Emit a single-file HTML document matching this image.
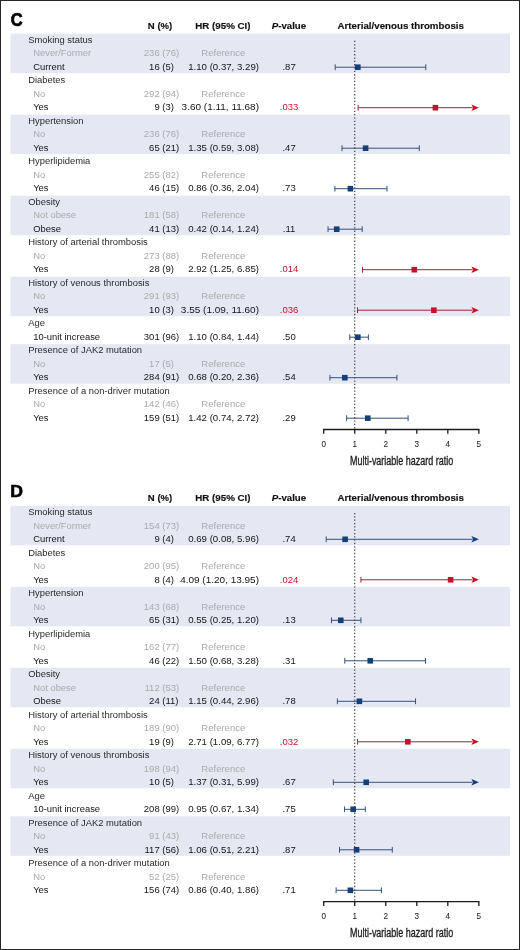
<!DOCTYPE html>
<html><head><meta charset="utf-8"><title>Forest plot</title>
<style>html,body{margin:0;padding:0;background:#fff;} body{width:520px;height:950px;overflow:hidden;font-family:"Liberation Sans", sans-serif;} svg{display:block;will-change:transform;}</style>
</head><body>
<svg width="520" height="950" viewBox="0 0 520 950" font-family='"Liberation Sans", sans-serif'>
<rect x="0" y="0" width="520" height="950" fill="#fff"/>
<text x="10.72" y="25.6" font-size="17.5" font-weight="bold" fill="#000" stroke="#000" stroke-width="0.7" textLength="11.93" lengthAdjust="spacingAndGlyphs">C</text>
<g font-weight="bold" font-size="9.5" fill="#111" stroke="#111" stroke-width="0.15">
<text x="147.86" y="29" textLength="24.42" lengthAdjust="spacingAndGlyphs">N (%)</text>
<text x="195.25" y="29" textLength="55.25" lengthAdjust="spacingAndGlyphs">HR (95% CI)</text>
<text x="271.75" y="29" textLength="34.38" lengthAdjust="spacingAndGlyphs"><tspan font-style="italic">P</tspan>-value</text>
<text x="337.56" y="29" textLength="126.34" lengthAdjust="spacingAndGlyphs">Arterial/venous thrombosis</text>
</g>
<rect x="10.5" y="33.7" width="499.5" height="39.5" fill="#e5e8f3"/>
<rect x="10.5" y="114.7" width="499.5" height="39.5" fill="#e5e8f3"/>
<rect x="10.5" y="195.7" width="499.5" height="39.5" fill="#e5e8f3"/>
<rect x="10.5" y="276.7" width="499.5" height="39.5" fill="#e5e8f3"/>
<rect x="10.5" y="344.2" width="499.5" height="39.5" fill="#e5e8f3"/>
<line x1="354.73" y1="40.8" x2="354.73" y2="429.5" stroke="#333" stroke-width="1.1" stroke-dasharray="1.3 2.03"/>
<g font-size="9.5"><text x="28.2" y="42.9" fill="#2a2a2a" font-size="8.9" textLength="64.26" lengthAdjust="spacingAndGlyphs">Smoking status</text>
<text x="33.2" y="56.4" fill="#aaaaaa" font-size="8.9" textLength="57.97" lengthAdjust="spacingAndGlyphs">Never/Former</text>
<text x="159.7" y="56.4" fill="#aaaaaa" font-size="8.9" textLength="15.85" lengthAdjust="spacingAndGlyphs" text-anchor="end">236</text>
<text x="162.3" y="56.4" fill="#aaaaaa" font-size="8.9" textLength="16.89" lengthAdjust="spacingAndGlyphs">(76)</text>
<text x="223.3" y="56.4" fill="#aaaaaa" font-size="8.9" textLength="43.83" lengthAdjust="spacingAndGlyphs" text-anchor="middle">Reference</text>
<text x="33.2" y="69.9" fill="#141414" font-size="8.9" textLength="31.34" lengthAdjust="spacingAndGlyphs">Current</text>
<text x="159.7" y="69.9" fill="#141414" font-size="8.9" textLength="10.57" lengthAdjust="spacingAndGlyphs" text-anchor="end">16</text>
<text x="162.3" y="69.9" fill="#141414" font-size="8.9" textLength="11.61" lengthAdjust="spacingAndGlyphs">(5)</text>
<text x="259" y="69.9" fill="#141414" font-size="8.9" textLength="70.82" lengthAdjust="spacingAndGlyphs" text-anchor="end">1.10 (0.37, 3.29)</text>
<text x="289.1" y="69.9" fill="#141414" font-size="8.9" textLength="13.21" lengthAdjust="spacingAndGlyphs" text-anchor="middle">.87</text>
<text x="28.2" y="83.4" fill="#2a2a2a" font-size="8.9" textLength="37.1" lengthAdjust="spacingAndGlyphs">Diabetes</text>
<text x="33.2" y="96.9" fill="#aaaaaa" font-size="8.9" textLength="12.02" lengthAdjust="spacingAndGlyphs">No</text>
<text x="159.7" y="96.9" fill="#aaaaaa" font-size="8.9" textLength="15.85" lengthAdjust="spacingAndGlyphs" text-anchor="end">292</text>
<text x="162.3" y="96.9" fill="#aaaaaa" font-size="8.9" textLength="16.89" lengthAdjust="spacingAndGlyphs">(94)</text>
<text x="223.3" y="96.9" fill="#aaaaaa" font-size="8.9" textLength="43.83" lengthAdjust="spacingAndGlyphs" text-anchor="middle">Reference</text>
<text x="33.2" y="110.4" fill="#141414" font-size="8.9" textLength="15.33" lengthAdjust="spacingAndGlyphs">Yes</text>
<text x="159.7" y="110.4" fill="#141414" font-size="8.9" textLength="5.28" lengthAdjust="spacingAndGlyphs" text-anchor="end">9</text>
<text x="162.3" y="110.4" fill="#141414" font-size="8.9" textLength="11.61" lengthAdjust="spacingAndGlyphs">(3)</text>
<text x="259" y="110.4" fill="#141414" font-size="8.9" textLength="77.37" lengthAdjust="spacingAndGlyphs" text-anchor="end">3.60 (1.11, 11.68)</text>
<text x="289.1" y="110.4" fill="#c8102e" font-size="8.9" textLength="18.49" lengthAdjust="spacingAndGlyphs" text-anchor="middle">.033</text>
<text x="28.2" y="123.9" fill="#2a2a2a" font-size="8.9" textLength="55.39" lengthAdjust="spacingAndGlyphs">Hypertension</text>
<text x="33.2" y="137.4" fill="#aaaaaa" font-size="8.9" textLength="12.02" lengthAdjust="spacingAndGlyphs">No</text>
<text x="159.7" y="137.4" fill="#aaaaaa" font-size="8.9" textLength="15.85" lengthAdjust="spacingAndGlyphs" text-anchor="end">236</text>
<text x="162.3" y="137.4" fill="#aaaaaa" font-size="8.9" textLength="16.89" lengthAdjust="spacingAndGlyphs">(76)</text>
<text x="223.3" y="137.4" fill="#aaaaaa" font-size="8.9" textLength="43.83" lengthAdjust="spacingAndGlyphs" text-anchor="middle">Reference</text>
<text x="33.2" y="150.9" fill="#141414" font-size="8.9" textLength="15.33" lengthAdjust="spacingAndGlyphs">Yes</text>
<text x="159.7" y="150.9" fill="#141414" font-size="8.9" textLength="10.57" lengthAdjust="spacingAndGlyphs" text-anchor="end">65</text>
<text x="162.3" y="150.9" fill="#141414" font-size="8.9" textLength="16.89" lengthAdjust="spacingAndGlyphs">(21)</text>
<text x="259" y="150.9" fill="#141414" font-size="8.9" textLength="70.82" lengthAdjust="spacingAndGlyphs" text-anchor="end">1.35 (0.59, 3.08)</text>
<text x="289.1" y="150.9" fill="#141414" font-size="8.9" textLength="13.21" lengthAdjust="spacingAndGlyphs" text-anchor="middle">.47</text>
<text x="28.2" y="164.4" fill="#2a2a2a" font-size="8.9" textLength="62.17" lengthAdjust="spacingAndGlyphs">Hyperlipidemia</text>
<text x="33.2" y="177.9" fill="#aaaaaa" font-size="8.9" textLength="12.02" lengthAdjust="spacingAndGlyphs">No</text>
<text x="159.7" y="177.9" fill="#aaaaaa" font-size="8.9" textLength="15.85" lengthAdjust="spacingAndGlyphs" text-anchor="end">255</text>
<text x="162.3" y="177.9" fill="#aaaaaa" font-size="8.9" textLength="16.89" lengthAdjust="spacingAndGlyphs">(82)</text>
<text x="223.3" y="177.9" fill="#aaaaaa" font-size="8.9" textLength="43.83" lengthAdjust="spacingAndGlyphs" text-anchor="middle">Reference</text>
<text x="33.2" y="191.4" fill="#141414" font-size="8.9" textLength="15.33" lengthAdjust="spacingAndGlyphs">Yes</text>
<text x="159.7" y="191.4" fill="#141414" font-size="8.9" textLength="10.57" lengthAdjust="spacingAndGlyphs" text-anchor="end">46</text>
<text x="162.3" y="191.4" fill="#141414" font-size="8.9" textLength="16.89" lengthAdjust="spacingAndGlyphs">(15)</text>
<text x="259" y="191.4" fill="#141414" font-size="8.9" textLength="70.82" lengthAdjust="spacingAndGlyphs" text-anchor="end">0.86 (0.36, 2.04)</text>
<text x="289.1" y="191.4" fill="#141414" font-size="8.9" textLength="13.21" lengthAdjust="spacingAndGlyphs" text-anchor="middle">.73</text>
<text x="28.2" y="204.9" fill="#2a2a2a" font-size="8.9" textLength="31.87" lengthAdjust="spacingAndGlyphs">Obesity</text>
<text x="33.2" y="218.4" fill="#aaaaaa" font-size="8.9" textLength="42.85" lengthAdjust="spacingAndGlyphs">Not obese</text>
<text x="159.7" y="218.4" fill="#aaaaaa" font-size="8.9" textLength="15.85" lengthAdjust="spacingAndGlyphs" text-anchor="end">181</text>
<text x="162.3" y="218.4" fill="#aaaaaa" font-size="8.9" textLength="16.89" lengthAdjust="spacingAndGlyphs">(58)</text>
<text x="223.3" y="218.4" fill="#aaaaaa" font-size="8.9" textLength="43.83" lengthAdjust="spacingAndGlyphs" text-anchor="middle">Reference</text>
<text x="33.2" y="231.9" fill="#141414" font-size="8.9" textLength="27.7" lengthAdjust="spacingAndGlyphs">Obese</text>
<text x="159.7" y="231.9" fill="#141414" font-size="8.9" textLength="10.57" lengthAdjust="spacingAndGlyphs" text-anchor="end">41</text>
<text x="162.3" y="231.9" fill="#141414" font-size="8.9" textLength="16.89" lengthAdjust="spacingAndGlyphs">(13)</text>
<text x="259" y="231.9" fill="#141414" font-size="8.9" textLength="70.82" lengthAdjust="spacingAndGlyphs" text-anchor="end">0.42 (0.14, 1.24)</text>
<text x="289.1" y="231.9" fill="#141414" font-size="8.9" textLength="12.5" lengthAdjust="spacingAndGlyphs" text-anchor="middle">.11</text>
<text x="28.2" y="245.4" fill="#2a2a2a" font-size="8.9" textLength="119.63" lengthAdjust="spacingAndGlyphs">History of arterial thrombosis</text>
<text x="33.2" y="258.9" fill="#aaaaaa" font-size="8.9" textLength="12.02" lengthAdjust="spacingAndGlyphs">No</text>
<text x="159.7" y="258.9" fill="#aaaaaa" font-size="8.9" textLength="15.85" lengthAdjust="spacingAndGlyphs" text-anchor="end">273</text>
<text x="162.3" y="258.9" fill="#aaaaaa" font-size="8.9" textLength="16.89" lengthAdjust="spacingAndGlyphs">(88)</text>
<text x="223.3" y="258.9" fill="#aaaaaa" font-size="8.9" textLength="43.83" lengthAdjust="spacingAndGlyphs" text-anchor="middle">Reference</text>
<text x="33.2" y="272.4" fill="#141414" font-size="8.9" textLength="15.33" lengthAdjust="spacingAndGlyphs">Yes</text>
<text x="159.7" y="272.4" fill="#141414" font-size="8.9" textLength="10.57" lengthAdjust="spacingAndGlyphs" text-anchor="end">28</text>
<text x="162.3" y="272.4" fill="#141414" font-size="8.9" textLength="11.61" lengthAdjust="spacingAndGlyphs">(9)</text>
<text x="259" y="272.4" fill="#141414" font-size="8.9" textLength="70.82" lengthAdjust="spacingAndGlyphs" text-anchor="end">2.92 (1.25, 6.85)</text>
<text x="289.1" y="272.4" fill="#c8102e" font-size="8.9" textLength="18.49" lengthAdjust="spacingAndGlyphs" text-anchor="middle">.014</text>
<text x="28.2" y="285.9" fill="#2a2a2a" font-size="8.9" textLength="121.2" lengthAdjust="spacingAndGlyphs">History of venous thrombosis</text>
<text x="33.2" y="299.4" fill="#aaaaaa" font-size="8.9" textLength="12.02" lengthAdjust="spacingAndGlyphs">No</text>
<text x="159.7" y="299.4" fill="#aaaaaa" font-size="8.9" textLength="15.85" lengthAdjust="spacingAndGlyphs" text-anchor="end">291</text>
<text x="162.3" y="299.4" fill="#aaaaaa" font-size="8.9" textLength="16.89" lengthAdjust="spacingAndGlyphs">(93)</text>
<text x="223.3" y="299.4" fill="#aaaaaa" font-size="8.9" textLength="43.83" lengthAdjust="spacingAndGlyphs" text-anchor="middle">Reference</text>
<text x="33.2" y="312.9" fill="#141414" font-size="8.9" textLength="15.33" lengthAdjust="spacingAndGlyphs">Yes</text>
<text x="159.7" y="312.9" fill="#141414" font-size="8.9" textLength="10.57" lengthAdjust="spacingAndGlyphs" text-anchor="end">10</text>
<text x="162.3" y="312.9" fill="#141414" font-size="8.9" textLength="11.61" lengthAdjust="spacingAndGlyphs">(3)</text>
<text x="259" y="312.9" fill="#141414" font-size="8.9" textLength="78.11" lengthAdjust="spacingAndGlyphs" text-anchor="end">3.55 (1.09, 11.60)</text>
<text x="289.1" y="312.9" fill="#c8102e" font-size="8.9" textLength="18.49" lengthAdjust="spacingAndGlyphs" text-anchor="middle">.036</text>
<text x="28.2" y="326.4" fill="#2a2a2a" font-size="8.9" textLength="16.73" lengthAdjust="spacingAndGlyphs">Age</text>
<text x="33.2" y="339.9" fill="#141414" font-size="8.9" textLength="66.88" lengthAdjust="spacingAndGlyphs">10-unit increase</text>
<text x="159.7" y="339.9" fill="#141414" font-size="8.9" textLength="15.85" lengthAdjust="spacingAndGlyphs" text-anchor="end">301</text>
<text x="162.3" y="339.9" fill="#141414" font-size="8.9" textLength="16.89" lengthAdjust="spacingAndGlyphs">(96)</text>
<text x="259" y="339.9" fill="#141414" font-size="8.9" textLength="70.82" lengthAdjust="spacingAndGlyphs" text-anchor="end">1.10 (0.84, 1.44)</text>
<text x="289.1" y="339.9" fill="#141414" font-size="8.9" textLength="13.21" lengthAdjust="spacingAndGlyphs" text-anchor="middle">.50</text>
<text x="28.2" y="353.4" fill="#2a2a2a" font-size="8.9" textLength="113.91" lengthAdjust="spacingAndGlyphs">Presence of JAK2 mutation</text>
<text x="33.2" y="366.9" fill="#aaaaaa" font-size="8.9" textLength="12.02" lengthAdjust="spacingAndGlyphs">No</text>
<text x="159.7" y="366.9" fill="#aaaaaa" font-size="8.9" textLength="10.57" lengthAdjust="spacingAndGlyphs" text-anchor="end">17</text>
<text x="162.3" y="366.9" fill="#aaaaaa" font-size="8.9" textLength="11.61" lengthAdjust="spacingAndGlyphs">(5)</text>
<text x="223.3" y="366.9" fill="#aaaaaa" font-size="8.9" textLength="43.83" lengthAdjust="spacingAndGlyphs" text-anchor="middle">Reference</text>
<text x="33.2" y="380.4" fill="#141414" font-size="8.9" textLength="15.33" lengthAdjust="spacingAndGlyphs">Yes</text>
<text x="159.7" y="380.4" fill="#141414" font-size="8.9" textLength="15.85" lengthAdjust="spacingAndGlyphs" text-anchor="end">284</text>
<text x="162.3" y="380.4" fill="#141414" font-size="8.9" textLength="16.89" lengthAdjust="spacingAndGlyphs">(91)</text>
<text x="259" y="380.4" fill="#141414" font-size="8.9" textLength="70.82" lengthAdjust="spacingAndGlyphs" text-anchor="end">0.68 (0.20, 2.36)</text>
<text x="289.1" y="380.4" fill="#141414" font-size="8.9" textLength="13.21" lengthAdjust="spacingAndGlyphs" text-anchor="middle">.54</text>
<text x="28.2" y="393.9" fill="#2a2a2a" font-size="8.9" textLength="141.6" lengthAdjust="spacingAndGlyphs">Presence of a non-driver mutation</text>
<text x="33.2" y="407.4" fill="#aaaaaa" font-size="8.9" textLength="12.02" lengthAdjust="spacingAndGlyphs">No</text>
<text x="159.7" y="407.4" fill="#aaaaaa" font-size="8.9" textLength="15.85" lengthAdjust="spacingAndGlyphs" text-anchor="end">142</text>
<text x="162.3" y="407.4" fill="#aaaaaa" font-size="8.9" textLength="16.89" lengthAdjust="spacingAndGlyphs">(46)</text>
<text x="223.3" y="407.4" fill="#aaaaaa" font-size="8.9" textLength="43.83" lengthAdjust="spacingAndGlyphs" text-anchor="middle">Reference</text>
<text x="33.2" y="420.9" fill="#141414" font-size="8.9" textLength="15.33" lengthAdjust="spacingAndGlyphs">Yes</text>
<text x="159.7" y="420.9" fill="#141414" font-size="8.9" textLength="15.85" lengthAdjust="spacingAndGlyphs" text-anchor="end">159</text>
<text x="162.3" y="420.9" fill="#141414" font-size="8.9" textLength="16.89" lengthAdjust="spacingAndGlyphs">(51)</text>
<text x="259" y="420.9" fill="#141414" font-size="8.9" textLength="70.82" lengthAdjust="spacingAndGlyphs" text-anchor="end">1.42 (0.74, 2.72)</text>
<text x="289.1" y="420.9" fill="#141414" font-size="8.9" textLength="13.21" lengthAdjust="spacingAndGlyphs" text-anchor="middle">.29</text></g>
<line x1="335.18" y1="67.2" x2="425.79" y2="67.2" stroke="#34507a" stroke-width="1.0"/>
<line x1="335.18" y1="64.3" x2="335.18" y2="70.1" stroke="#34507a" stroke-width="1.0"/>
<line x1="425.79" y1="64.3" x2="425.79" y2="70.1" stroke="#34507a" stroke-width="1.0"/>
<rect x="355.03" y="64.4" width="5.6" height="5.6" fill="#143f78"/>
<line x1="358.14" y1="107.7" x2="472.4" y2="107.7" stroke="#a41f3d" stroke-width="1.0"/>
<line x1="358.14" y1="104.8" x2="358.14" y2="110.6" stroke="#a41f3d" stroke-width="1.0"/>
<path d="M478.9 107.7 L471.4 104.5 L473 107.7 L471.4 110.9 Z" fill="#c8102e"/>
<rect x="432.61" y="104.9" width="5.6" height="5.6" fill="#c8102e"/>
<line x1="342.01" y1="148.2" x2="419.27" y2="148.2" stroke="#34507a" stroke-width="1.0"/>
<line x1="342.01" y1="145.3" x2="342.01" y2="151.1" stroke="#34507a" stroke-width="1.0"/>
<line x1="419.27" y1="145.3" x2="419.27" y2="151.1" stroke="#34507a" stroke-width="1.0"/>
<rect x="362.79" y="145.4" width="5.6" height="5.6" fill="#143f78"/>
<line x1="334.87" y1="188.7" x2="387" y2="188.7" stroke="#34507a" stroke-width="1.0"/>
<line x1="334.87" y1="185.8" x2="334.87" y2="191.6" stroke="#34507a" stroke-width="1.0"/>
<line x1="387" y1="185.8" x2="387" y2="191.6" stroke="#34507a" stroke-width="1.0"/>
<rect x="347.59" y="185.9" width="5.6" height="5.6" fill="#143f78"/>
<line x1="328.04" y1="229.2" x2="362.18" y2="229.2" stroke="#34507a" stroke-width="1.0"/>
<line x1="328.04" y1="226.3" x2="328.04" y2="232.1" stroke="#34507a" stroke-width="1.0"/>
<line x1="362.18" y1="226.3" x2="362.18" y2="232.1" stroke="#34507a" stroke-width="1.0"/>
<rect x="333.93" y="226.4" width="5.6" height="5.6" fill="#143f78"/>
<line x1="362.49" y1="269.7" x2="472.4" y2="269.7" stroke="#a41f3d" stroke-width="1.0"/>
<line x1="362.49" y1="266.8" x2="362.49" y2="272.6" stroke="#a41f3d" stroke-width="1.0"/>
<path d="M478.9 269.7 L471.4 266.5 L473 269.7 L471.4 272.9 Z" fill="#c8102e"/>
<rect x="411.51" y="266.9" width="5.6" height="5.6" fill="#c8102e"/>
<line x1="357.52" y1="310.2" x2="472.4" y2="310.2" stroke="#a41f3d" stroke-width="1.0"/>
<line x1="357.52" y1="307.3" x2="357.52" y2="313.1" stroke="#a41f3d" stroke-width="1.0"/>
<path d="M478.9 310.2 L471.4 307 L473 310.2 L471.4 313.4 Z" fill="#c8102e"/>
<rect x="431.06" y="307.4" width="5.6" height="5.6" fill="#c8102e"/>
<line x1="349.77" y1="337.2" x2="368.38" y2="337.2" stroke="#34507a" stroke-width="1.0"/>
<line x1="349.77" y1="334.3" x2="349.77" y2="340.1" stroke="#34507a" stroke-width="1.0"/>
<line x1="368.38" y1="334.3" x2="368.38" y2="340.1" stroke="#34507a" stroke-width="1.0"/>
<rect x="355.03" y="334.4" width="5.6" height="5.6" fill="#143f78"/>
<line x1="329.91" y1="377.7" x2="396.93" y2="377.7" stroke="#34507a" stroke-width="1.0"/>
<line x1="329.91" y1="374.8" x2="329.91" y2="380.6" stroke="#34507a" stroke-width="1.0"/>
<line x1="396.93" y1="374.8" x2="396.93" y2="380.6" stroke="#34507a" stroke-width="1.0"/>
<rect x="342" y="374.9" width="5.6" height="5.6" fill="#143f78"/>
<line x1="346.66" y1="418.2" x2="408.1" y2="418.2" stroke="#34507a" stroke-width="1.0"/>
<line x1="346.66" y1="415.3" x2="346.66" y2="421.1" stroke="#34507a" stroke-width="1.0"/>
<line x1="408.1" y1="415.3" x2="408.1" y2="421.1" stroke="#34507a" stroke-width="1.0"/>
<rect x="364.96" y="415.4" width="5.6" height="5.6" fill="#143f78"/>
<line x1="323.1" y1="429.5" x2="479.45" y2="429.5" stroke="#1a1a1a" stroke-width="1.3"/>
<line x1="323.7" y1="429.5" x2="323.7" y2="433.8" stroke="#1a1a1a" stroke-width="1.3"/>
<text x="323.7" y="446.8" font-size="8.9" fill="#1e1e1e" stroke="#1e1e1e" stroke-width="0.05" text-anchor="middle" transform="translate(323.7 0) scale(0.92 1) translate(-323.7 0)">0</text>
<line x1="354.73" y1="429.5" x2="354.73" y2="433.8" stroke="#1a1a1a" stroke-width="1.3"/>
<text x="354.73" y="446.8" font-size="8.9" fill="#1e1e1e" stroke="#1e1e1e" stroke-width="0.05" text-anchor="middle" transform="translate(354.73 0) scale(0.92 1) translate(-354.73 0)">1</text>
<line x1="385.76" y1="429.5" x2="385.76" y2="433.8" stroke="#1a1a1a" stroke-width="1.3"/>
<text x="385.76" y="446.8" font-size="8.9" fill="#1e1e1e" stroke="#1e1e1e" stroke-width="0.05" text-anchor="middle" transform="translate(385.76 0) scale(0.92 1) translate(-385.76 0)">2</text>
<line x1="416.79" y1="429.5" x2="416.79" y2="433.8" stroke="#1a1a1a" stroke-width="1.3"/>
<text x="416.79" y="446.8" font-size="8.9" fill="#1e1e1e" stroke="#1e1e1e" stroke-width="0.05" text-anchor="middle" transform="translate(416.79 0) scale(0.92 1) translate(-416.79 0)">3</text>
<line x1="447.82" y1="429.5" x2="447.82" y2="433.8" stroke="#1a1a1a" stroke-width="1.3"/>
<text x="447.82" y="446.8" font-size="8.9" fill="#1e1e1e" stroke="#1e1e1e" stroke-width="0.05" text-anchor="middle" transform="translate(447.82 0) scale(0.92 1) translate(-447.82 0)">4</text>
<line x1="478.85" y1="429.5" x2="478.85" y2="433.8" stroke="#1a1a1a" stroke-width="1.3"/>
<text x="478.85" y="446.8" font-size="8.9" fill="#1e1e1e" stroke="#1e1e1e" stroke-width="0.05" text-anchor="middle" transform="translate(478.85 0) scale(0.92 1) translate(-478.85 0)">5</text>
<text x="349.96" y="464.7" font-size="11.9" fill="#1e1e1e" stroke="#1e1e1e" stroke-width="0.35" textLength="103.21" lengthAdjust="spacingAndGlyphs">Multi-variable hazard ratio</text>
<text x="10.22" y="496.5" font-size="16.4" font-weight="bold" fill="#000" stroke="#000" stroke-width="0.6" textLength="12.72" lengthAdjust="spacingAndGlyphs">D</text>
<g font-weight="bold" font-size="9.5" fill="#111" stroke="#111" stroke-width="0.15">
<text x="147.86" y="501.1" textLength="24.42" lengthAdjust="spacingAndGlyphs">N (%)</text>
<text x="195.25" y="501.1" textLength="55.25" lengthAdjust="spacingAndGlyphs">HR (95% CI)</text>
<text x="271.75" y="501.1" textLength="34.38" lengthAdjust="spacingAndGlyphs"><tspan font-style="italic">P</tspan>-value</text>
<text x="337.56" y="501.1" textLength="126.34" lengthAdjust="spacingAndGlyphs">Arterial/venous thrombosis</text>
</g>
<rect x="10.5" y="505.8" width="499.5" height="39.5" fill="#e5e8f3"/>
<rect x="10.5" y="586.8" width="499.5" height="39.5" fill="#e5e8f3"/>
<rect x="10.5" y="667.8" width="499.5" height="39.5" fill="#e5e8f3"/>
<rect x="10.5" y="748.8" width="499.5" height="39.5" fill="#e5e8f3"/>
<rect x="10.5" y="816.3" width="499.5" height="39.5" fill="#e5e8f3"/>
<line x1="354.73" y1="512.9" x2="354.73" y2="901.6" stroke="#333" stroke-width="1.1" stroke-dasharray="1.3 2.03"/>
<g font-size="9.5"><text x="28.2" y="515" fill="#2a2a2a" font-size="8.9" textLength="64.26" lengthAdjust="spacingAndGlyphs">Smoking status</text>
<text x="33.2" y="528.5" fill="#aaaaaa" font-size="8.9" textLength="57.97" lengthAdjust="spacingAndGlyphs">Never/Former</text>
<text x="159.7" y="528.5" fill="#aaaaaa" font-size="8.9" textLength="15.85" lengthAdjust="spacingAndGlyphs" text-anchor="end">154</text>
<text x="162.3" y="528.5" fill="#aaaaaa" font-size="8.9" textLength="16.89" lengthAdjust="spacingAndGlyphs">(73)</text>
<text x="223.3" y="528.5" fill="#aaaaaa" font-size="8.9" textLength="43.83" lengthAdjust="spacingAndGlyphs" text-anchor="middle">Reference</text>
<text x="33.2" y="542" fill="#141414" font-size="8.9" textLength="31.34" lengthAdjust="spacingAndGlyphs">Current</text>
<text x="159.7" y="542" fill="#141414" font-size="8.9" textLength="5.28" lengthAdjust="spacingAndGlyphs" text-anchor="end">9</text>
<text x="162.3" y="542" fill="#141414" font-size="8.9" textLength="11.61" lengthAdjust="spacingAndGlyphs">(4)</text>
<text x="259" y="542" fill="#141414" font-size="8.9" textLength="70.82" lengthAdjust="spacingAndGlyphs" text-anchor="end">0.69 (0.08, 5.96)</text>
<text x="289.1" y="542" fill="#141414" font-size="8.9" textLength="13.21" lengthAdjust="spacingAndGlyphs" text-anchor="middle">.74</text>
<text x="28.2" y="555.5" fill="#2a2a2a" font-size="8.9" textLength="37.1" lengthAdjust="spacingAndGlyphs">Diabetes</text>
<text x="33.2" y="569" fill="#aaaaaa" font-size="8.9" textLength="12.02" lengthAdjust="spacingAndGlyphs">No</text>
<text x="159.7" y="569" fill="#aaaaaa" font-size="8.9" textLength="15.85" lengthAdjust="spacingAndGlyphs" text-anchor="end">200</text>
<text x="162.3" y="569" fill="#aaaaaa" font-size="8.9" textLength="16.89" lengthAdjust="spacingAndGlyphs">(95)</text>
<text x="223.3" y="569" fill="#aaaaaa" font-size="8.9" textLength="43.83" lengthAdjust="spacingAndGlyphs" text-anchor="middle">Reference</text>
<text x="33.2" y="582.5" fill="#141414" font-size="8.9" textLength="15.33" lengthAdjust="spacingAndGlyphs">Yes</text>
<text x="159.7" y="582.5" fill="#141414" font-size="8.9" textLength="5.28" lengthAdjust="spacingAndGlyphs" text-anchor="end">8</text>
<text x="162.3" y="582.5" fill="#141414" font-size="8.9" textLength="11.61" lengthAdjust="spacingAndGlyphs">(4)</text>
<text x="259" y="582.5" fill="#141414" font-size="8.9" textLength="78.85" lengthAdjust="spacingAndGlyphs" text-anchor="end">4.09 (1.20, 13.95)</text>
<text x="289.1" y="582.5" fill="#c8102e" font-size="8.9" textLength="18.49" lengthAdjust="spacingAndGlyphs" text-anchor="middle">.024</text>
<text x="28.2" y="596" fill="#2a2a2a" font-size="8.9" textLength="55.39" lengthAdjust="spacingAndGlyphs">Hypertension</text>
<text x="33.2" y="609.5" fill="#aaaaaa" font-size="8.9" textLength="12.02" lengthAdjust="spacingAndGlyphs">No</text>
<text x="159.7" y="609.5" fill="#aaaaaa" font-size="8.9" textLength="15.85" lengthAdjust="spacingAndGlyphs" text-anchor="end">143</text>
<text x="162.3" y="609.5" fill="#aaaaaa" font-size="8.9" textLength="16.89" lengthAdjust="spacingAndGlyphs">(68)</text>
<text x="223.3" y="609.5" fill="#aaaaaa" font-size="8.9" textLength="43.83" lengthAdjust="spacingAndGlyphs" text-anchor="middle">Reference</text>
<text x="33.2" y="623" fill="#141414" font-size="8.9" textLength="15.33" lengthAdjust="spacingAndGlyphs">Yes</text>
<text x="159.7" y="623" fill="#141414" font-size="8.9" textLength="10.57" lengthAdjust="spacingAndGlyphs" text-anchor="end">65</text>
<text x="162.3" y="623" fill="#141414" font-size="8.9" textLength="16.89" lengthAdjust="spacingAndGlyphs">(31)</text>
<text x="259" y="623" fill="#141414" font-size="8.9" textLength="70.82" lengthAdjust="spacingAndGlyphs" text-anchor="end">0.55 (0.25, 1.20)</text>
<text x="289.1" y="623" fill="#141414" font-size="8.9" textLength="13.21" lengthAdjust="spacingAndGlyphs" text-anchor="middle">.13</text>
<text x="28.2" y="636.5" fill="#2a2a2a" font-size="8.9" textLength="62.17" lengthAdjust="spacingAndGlyphs">Hyperlipidemia</text>
<text x="33.2" y="650" fill="#aaaaaa" font-size="8.9" textLength="12.02" lengthAdjust="spacingAndGlyphs">No</text>
<text x="159.7" y="650" fill="#aaaaaa" font-size="8.9" textLength="15.85" lengthAdjust="spacingAndGlyphs" text-anchor="end">162</text>
<text x="162.3" y="650" fill="#aaaaaa" font-size="8.9" textLength="16.89" lengthAdjust="spacingAndGlyphs">(77)</text>
<text x="223.3" y="650" fill="#aaaaaa" font-size="8.9" textLength="43.83" lengthAdjust="spacingAndGlyphs" text-anchor="middle">Reference</text>
<text x="33.2" y="663.5" fill="#141414" font-size="8.9" textLength="15.33" lengthAdjust="spacingAndGlyphs">Yes</text>
<text x="159.7" y="663.5" fill="#141414" font-size="8.9" textLength="10.57" lengthAdjust="spacingAndGlyphs" text-anchor="end">46</text>
<text x="162.3" y="663.5" fill="#141414" font-size="8.9" textLength="16.89" lengthAdjust="spacingAndGlyphs">(22)</text>
<text x="259" y="663.5" fill="#141414" font-size="8.9" textLength="70.82" lengthAdjust="spacingAndGlyphs" text-anchor="end">1.50 (0.68, 3.28)</text>
<text x="289.1" y="663.5" fill="#141414" font-size="8.9" textLength="13.21" lengthAdjust="spacingAndGlyphs" text-anchor="middle">.31</text>
<text x="28.2" y="677" fill="#2a2a2a" font-size="8.9" textLength="31.87" lengthAdjust="spacingAndGlyphs">Obesity</text>
<text x="33.2" y="690.5" fill="#aaaaaa" font-size="8.9" textLength="42.85" lengthAdjust="spacingAndGlyphs">Not obese</text>
<text x="159.7" y="690.5" fill="#aaaaaa" font-size="8.9" textLength="15.15" lengthAdjust="spacingAndGlyphs" text-anchor="end">112</text>
<text x="162.3" y="690.5" fill="#aaaaaa" font-size="8.9" textLength="16.89" lengthAdjust="spacingAndGlyphs">(53)</text>
<text x="223.3" y="690.5" fill="#aaaaaa" font-size="8.9" textLength="43.83" lengthAdjust="spacingAndGlyphs" text-anchor="middle">Reference</text>
<text x="33.2" y="704" fill="#141414" font-size="8.9" textLength="27.7" lengthAdjust="spacingAndGlyphs">Obese</text>
<text x="159.7" y="704" fill="#141414" font-size="8.9" textLength="10.57" lengthAdjust="spacingAndGlyphs" text-anchor="end">24</text>
<text x="162.3" y="704" fill="#141414" font-size="8.9" textLength="16.19" lengthAdjust="spacingAndGlyphs">(11)</text>
<text x="259" y="704" fill="#141414" font-size="8.9" textLength="70.82" lengthAdjust="spacingAndGlyphs" text-anchor="end">1.15 (0.44, 2.96)</text>
<text x="289.1" y="704" fill="#141414" font-size="8.9" textLength="13.21" lengthAdjust="spacingAndGlyphs" text-anchor="middle">.78</text>
<text x="28.2" y="717.5" fill="#2a2a2a" font-size="8.9" textLength="119.63" lengthAdjust="spacingAndGlyphs">History of arterial thrombosis</text>
<text x="33.2" y="731" fill="#aaaaaa" font-size="8.9" textLength="12.02" lengthAdjust="spacingAndGlyphs">No</text>
<text x="159.7" y="731" fill="#aaaaaa" font-size="8.9" textLength="15.85" lengthAdjust="spacingAndGlyphs" text-anchor="end">189</text>
<text x="162.3" y="731" fill="#aaaaaa" font-size="8.9" textLength="16.89" lengthAdjust="spacingAndGlyphs">(90)</text>
<text x="223.3" y="731" fill="#aaaaaa" font-size="8.9" textLength="43.83" lengthAdjust="spacingAndGlyphs" text-anchor="middle">Reference</text>
<text x="33.2" y="744.5" fill="#141414" font-size="8.9" textLength="15.33" lengthAdjust="spacingAndGlyphs">Yes</text>
<text x="159.7" y="744.5" fill="#141414" font-size="8.9" textLength="10.57" lengthAdjust="spacingAndGlyphs" text-anchor="end">19</text>
<text x="162.3" y="744.5" fill="#141414" font-size="8.9" textLength="11.61" lengthAdjust="spacingAndGlyphs">(9)</text>
<text x="259" y="744.5" fill="#141414" font-size="8.9" textLength="70.82" lengthAdjust="spacingAndGlyphs" text-anchor="end">2.71 (1.09, 6.77)</text>
<text x="289.1" y="744.5" fill="#c8102e" font-size="8.9" textLength="18.49" lengthAdjust="spacingAndGlyphs" text-anchor="middle">.032</text>
<text x="28.2" y="758" fill="#2a2a2a" font-size="8.9" textLength="121.2" lengthAdjust="spacingAndGlyphs">History of venous thrombosis</text>
<text x="33.2" y="771.5" fill="#aaaaaa" font-size="8.9" textLength="12.02" lengthAdjust="spacingAndGlyphs">No</text>
<text x="159.7" y="771.5" fill="#aaaaaa" font-size="8.9" textLength="15.85" lengthAdjust="spacingAndGlyphs" text-anchor="end">198</text>
<text x="162.3" y="771.5" fill="#aaaaaa" font-size="8.9" textLength="16.89" lengthAdjust="spacingAndGlyphs">(94)</text>
<text x="223.3" y="771.5" fill="#aaaaaa" font-size="8.9" textLength="43.83" lengthAdjust="spacingAndGlyphs" text-anchor="middle">Reference</text>
<text x="33.2" y="785" fill="#141414" font-size="8.9" textLength="15.33" lengthAdjust="spacingAndGlyphs">Yes</text>
<text x="159.7" y="785" fill="#141414" font-size="8.9" textLength="10.57" lengthAdjust="spacingAndGlyphs" text-anchor="end">10</text>
<text x="162.3" y="785" fill="#141414" font-size="8.9" textLength="11.61" lengthAdjust="spacingAndGlyphs">(5)</text>
<text x="259" y="785" fill="#141414" font-size="8.9" textLength="70.82" lengthAdjust="spacingAndGlyphs" text-anchor="end">1.37 (0.31, 5.99)</text>
<text x="289.1" y="785" fill="#141414" font-size="8.9" textLength="13.21" lengthAdjust="spacingAndGlyphs" text-anchor="middle">.67</text>
<text x="28.2" y="798.5" fill="#2a2a2a" font-size="8.9" textLength="16.73" lengthAdjust="spacingAndGlyphs">Age</text>
<text x="33.2" y="812" fill="#141414" font-size="8.9" textLength="66.88" lengthAdjust="spacingAndGlyphs">10-unit increase</text>
<text x="159.7" y="812" fill="#141414" font-size="8.9" textLength="15.85" lengthAdjust="spacingAndGlyphs" text-anchor="end">208</text>
<text x="162.3" y="812" fill="#141414" font-size="8.9" textLength="16.89" lengthAdjust="spacingAndGlyphs">(99)</text>
<text x="259" y="812" fill="#141414" font-size="8.9" textLength="70.82" lengthAdjust="spacingAndGlyphs" text-anchor="end">0.95 (0.67, 1.34)</text>
<text x="289.1" y="812" fill="#141414" font-size="8.9" textLength="13.21" lengthAdjust="spacingAndGlyphs" text-anchor="middle">.75</text>
<text x="28.2" y="825.5" fill="#2a2a2a" font-size="8.9" textLength="113.91" lengthAdjust="spacingAndGlyphs">Presence of JAK2 mutation</text>
<text x="33.2" y="839" fill="#aaaaaa" font-size="8.9" textLength="12.02" lengthAdjust="spacingAndGlyphs">No</text>
<text x="159.7" y="839" fill="#aaaaaa" font-size="8.9" textLength="10.57" lengthAdjust="spacingAndGlyphs" text-anchor="end">91</text>
<text x="162.3" y="839" fill="#aaaaaa" font-size="8.9" textLength="16.89" lengthAdjust="spacingAndGlyphs">(43)</text>
<text x="223.3" y="839" fill="#aaaaaa" font-size="8.9" textLength="43.83" lengthAdjust="spacingAndGlyphs" text-anchor="middle">Reference</text>
<text x="33.2" y="852.5" fill="#141414" font-size="8.9" textLength="15.33" lengthAdjust="spacingAndGlyphs">Yes</text>
<text x="159.7" y="852.5" fill="#141414" font-size="8.9" textLength="15.15" lengthAdjust="spacingAndGlyphs" text-anchor="end">117</text>
<text x="162.3" y="852.5" fill="#141414" font-size="8.9" textLength="16.89" lengthAdjust="spacingAndGlyphs">(56)</text>
<text x="259" y="852.5" fill="#141414" font-size="8.9" textLength="70.82" lengthAdjust="spacingAndGlyphs" text-anchor="end">1.06 (0.51, 2.21)</text>
<text x="289.1" y="852.5" fill="#141414" font-size="8.9" textLength="13.21" lengthAdjust="spacingAndGlyphs" text-anchor="middle">.87</text>
<text x="28.2" y="866" fill="#2a2a2a" font-size="8.9" textLength="141.6" lengthAdjust="spacingAndGlyphs">Presence of a non-driver mutation</text>
<text x="33.2" y="879.5" fill="#aaaaaa" font-size="8.9" textLength="12.02" lengthAdjust="spacingAndGlyphs">No</text>
<text x="159.7" y="879.5" fill="#aaaaaa" font-size="8.9" textLength="10.57" lengthAdjust="spacingAndGlyphs" text-anchor="end">52</text>
<text x="162.3" y="879.5" fill="#aaaaaa" font-size="8.9" textLength="16.89" lengthAdjust="spacingAndGlyphs">(25)</text>
<text x="223.3" y="879.5" fill="#aaaaaa" font-size="8.9" textLength="43.83" lengthAdjust="spacingAndGlyphs" text-anchor="middle">Reference</text>
<text x="33.2" y="893" fill="#141414" font-size="8.9" textLength="15.33" lengthAdjust="spacingAndGlyphs">Yes</text>
<text x="159.7" y="893" fill="#141414" font-size="8.9" textLength="15.85" lengthAdjust="spacingAndGlyphs" text-anchor="end">156</text>
<text x="162.3" y="893" fill="#141414" font-size="8.9" textLength="16.89" lengthAdjust="spacingAndGlyphs">(74)</text>
<text x="259" y="893" fill="#141414" font-size="8.9" textLength="70.82" lengthAdjust="spacingAndGlyphs" text-anchor="end">0.86 (0.40, 1.86)</text>
<text x="289.1" y="893" fill="#141414" font-size="8.9" textLength="13.21" lengthAdjust="spacingAndGlyphs" text-anchor="middle">.71</text></g>
<line x1="326.18" y1="539.3" x2="472.4" y2="539.3" stroke="#34507a" stroke-width="1.0"/>
<line x1="326.18" y1="536.4" x2="326.18" y2="542.2" stroke="#34507a" stroke-width="1.0"/>
<path d="M478.9 539.3 L471.4 536.1 L473 539.3 L471.4 542.5 Z" fill="#143f78"/>
<rect x="342.31" y="536.5" width="5.6" height="5.6" fill="#143f78"/>
<line x1="360.94" y1="579.8" x2="472.4" y2="579.8" stroke="#a41f3d" stroke-width="1.0"/>
<line x1="360.94" y1="576.9" x2="360.94" y2="582.7" stroke="#a41f3d" stroke-width="1.0"/>
<path d="M478.9 579.8 L471.4 576.6 L473 579.8 L471.4 583 Z" fill="#c8102e"/>
<rect x="447.81" y="577" width="5.6" height="5.6" fill="#c8102e"/>
<line x1="331.46" y1="620.3" x2="360.94" y2="620.3" stroke="#34507a" stroke-width="1.0"/>
<line x1="331.46" y1="617.4" x2="331.46" y2="623.2" stroke="#34507a" stroke-width="1.0"/>
<line x1="360.94" y1="617.4" x2="360.94" y2="623.2" stroke="#34507a" stroke-width="1.0"/>
<rect x="337.97" y="617.5" width="5.6" height="5.6" fill="#143f78"/>
<line x1="344.8" y1="660.8" x2="425.48" y2="660.8" stroke="#34507a" stroke-width="1.0"/>
<line x1="344.8" y1="657.9" x2="344.8" y2="663.7" stroke="#34507a" stroke-width="1.0"/>
<line x1="425.48" y1="657.9" x2="425.48" y2="663.7" stroke="#34507a" stroke-width="1.0"/>
<rect x="367.44" y="658" width="5.6" height="5.6" fill="#143f78"/>
<line x1="337.35" y1="701.3" x2="415.55" y2="701.3" stroke="#34507a" stroke-width="1.0"/>
<line x1="337.35" y1="698.4" x2="337.35" y2="704.2" stroke="#34507a" stroke-width="1.0"/>
<line x1="415.55" y1="698.4" x2="415.55" y2="704.2" stroke="#34507a" stroke-width="1.0"/>
<rect x="356.58" y="698.5" width="5.6" height="5.6" fill="#143f78"/>
<line x1="357.52" y1="741.8" x2="472.4" y2="741.8" stroke="#a41f3d" stroke-width="1.0"/>
<line x1="357.52" y1="738.9" x2="357.52" y2="744.7" stroke="#a41f3d" stroke-width="1.0"/>
<path d="M478.9 741.8 L471.4 738.6 L473 741.8 L471.4 745 Z" fill="#c8102e"/>
<rect x="404.99" y="739" width="5.6" height="5.6" fill="#c8102e"/>
<line x1="333.32" y1="782.3" x2="472.4" y2="782.3" stroke="#34507a" stroke-width="1.0"/>
<line x1="333.32" y1="779.4" x2="333.32" y2="785.2" stroke="#34507a" stroke-width="1.0"/>
<path d="M478.9 782.3 L471.4 779.1 L473 782.3 L471.4 785.5 Z" fill="#143f78"/>
<rect x="363.41" y="779.5" width="5.6" height="5.6" fill="#143f78"/>
<line x1="344.49" y1="809.3" x2="365.28" y2="809.3" stroke="#34507a" stroke-width="1.0"/>
<line x1="344.49" y1="806.4" x2="344.49" y2="812.2" stroke="#34507a" stroke-width="1.0"/>
<line x1="365.28" y1="806.4" x2="365.28" y2="812.2" stroke="#34507a" stroke-width="1.0"/>
<rect x="350.38" y="806.5" width="5.6" height="5.6" fill="#143f78"/>
<line x1="339.53" y1="849.8" x2="392.28" y2="849.8" stroke="#34507a" stroke-width="1.0"/>
<line x1="339.53" y1="846.9" x2="339.53" y2="852.7" stroke="#34507a" stroke-width="1.0"/>
<line x1="392.28" y1="846.9" x2="392.28" y2="852.7" stroke="#34507a" stroke-width="1.0"/>
<rect x="353.79" y="847" width="5.6" height="5.6" fill="#143f78"/>
<line x1="336.11" y1="890.3" x2="381.42" y2="890.3" stroke="#34507a" stroke-width="1.0"/>
<line x1="336.11" y1="887.4" x2="336.11" y2="893.2" stroke="#34507a" stroke-width="1.0"/>
<line x1="381.42" y1="887.4" x2="381.42" y2="893.2" stroke="#34507a" stroke-width="1.0"/>
<rect x="347.59" y="887.5" width="5.6" height="5.6" fill="#143f78"/>
<line x1="323.1" y1="901.6" x2="479.45" y2="901.6" stroke="#1a1a1a" stroke-width="1.3"/>
<line x1="323.7" y1="901.6" x2="323.7" y2="905.9" stroke="#1a1a1a" stroke-width="1.3"/>
<text x="323.7" y="918.9" font-size="8.9" fill="#1e1e1e" stroke="#1e1e1e" stroke-width="0.05" text-anchor="middle" transform="translate(323.7 0) scale(0.92 1) translate(-323.7 0)">0</text>
<line x1="354.73" y1="901.6" x2="354.73" y2="905.9" stroke="#1a1a1a" stroke-width="1.3"/>
<text x="354.73" y="918.9" font-size="8.9" fill="#1e1e1e" stroke="#1e1e1e" stroke-width="0.05" text-anchor="middle" transform="translate(354.73 0) scale(0.92 1) translate(-354.73 0)">1</text>
<line x1="385.76" y1="901.6" x2="385.76" y2="905.9" stroke="#1a1a1a" stroke-width="1.3"/>
<text x="385.76" y="918.9" font-size="8.9" fill="#1e1e1e" stroke="#1e1e1e" stroke-width="0.05" text-anchor="middle" transform="translate(385.76 0) scale(0.92 1) translate(-385.76 0)">2</text>
<line x1="416.79" y1="901.6" x2="416.79" y2="905.9" stroke="#1a1a1a" stroke-width="1.3"/>
<text x="416.79" y="918.9" font-size="8.9" fill="#1e1e1e" stroke="#1e1e1e" stroke-width="0.05" text-anchor="middle" transform="translate(416.79 0) scale(0.92 1) translate(-416.79 0)">3</text>
<line x1="447.82" y1="901.6" x2="447.82" y2="905.9" stroke="#1a1a1a" stroke-width="1.3"/>
<text x="447.82" y="918.9" font-size="8.9" fill="#1e1e1e" stroke="#1e1e1e" stroke-width="0.05" text-anchor="middle" transform="translate(447.82 0) scale(0.92 1) translate(-447.82 0)">4</text>
<line x1="478.85" y1="901.6" x2="478.85" y2="905.9" stroke="#1a1a1a" stroke-width="1.3"/>
<text x="478.85" y="918.9" font-size="8.9" fill="#1e1e1e" stroke="#1e1e1e" stroke-width="0.05" text-anchor="middle" transform="translate(478.85 0) scale(0.92 1) translate(-478.85 0)">5</text>
<text x="349.96" y="936.8" font-size="11.9" fill="#1e1e1e" stroke="#1e1e1e" stroke-width="0.35" textLength="103.21" lengthAdjust="spacingAndGlyphs">Multi-variable hazard ratio</text>
<rect x="0.5" y="0.5" width="519" height="949" fill="none" stroke="#262626" stroke-width="1"/>
</svg>
</body></html>
